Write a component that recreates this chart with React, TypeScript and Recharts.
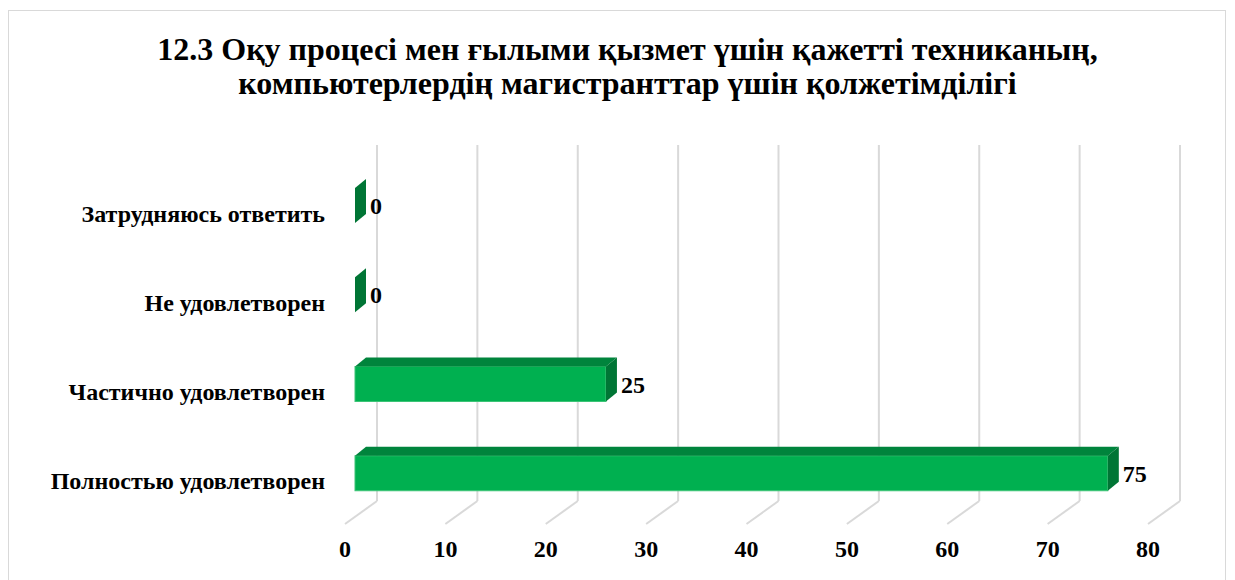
import React from 'react';
import { BarChart, Bar, XAxis, YAxis, CartesianGrid, LabelList } from 'recharts';

const categories = ['Затрудняюсь ответить', 'Не удовлетворен', 'Частично удовлетворен', 'Полностью удовлетворен'];
const values = [0, 0, 25, 75];
const xTicks = [0, 10, 20, 30, 40, 50, 60, 70, 80];
const titleLines = [
  '12.3 Оқу процесі мен ғылыми қызмет үшін қажетті техниканың,',
  'компьютерлердің магистранттар үшін қолжетімділігі',
];

const data = categories.map((c, i) => ({ name: c, value: values[i] }));

const FONT = '"Liberation Serif", "Times New Roman", serif';
const DX = 11;
const DY = 9;

const Bar3D = (props: any) => {
  const { x, y, width, height } = props;
  const w = Math.max(width || 0, 0);
  return (
    <g>
      <rect x={x} y={y} width={w} height={height} fill="#00b050" stroke="#3cc476" strokeWidth={w > 0 ? 1 : 0} />
      <polygon points={`${x},${y} ${x + DX},${y - DY} ${x + w + DX},${y - DY} ${x + w},${y}`} fill="#00843c" />
      <polygon
        points={`${x + w},${y} ${x + w + DX},${y - DY} ${x + w + DX},${y + height - DY} ${x + w},${y + height}`}
        fill="#007535"
      />
    </g>
  );
};

const GridLine = (props: any) => {
  const { x1, y1, y2 } = props;
  const bx = x1 + 22;
  return (
    <g>
      <line x1={bx} y1={y1 - 16} x2={bx} y2={y2 - 17} stroke="#d9d9d9" strokeWidth={2} />
      <line x1={x1 - 10} y1={y2 + 6} x2={bx} y2={y2 - 17} stroke="#d9d9d9" strokeWidth={2} />
    </g>
  );
};

const XTick = (props: any) => {
  const { x, y, payload } = props;
  return (
    <text x={x - 10} y={y + 31} textAnchor="middle" fontFamily={FONT} fontWeight="bold" fontSize={24} fill="#000">
      {payload.value}
    </text>
  );
};

const YTick = (props: any) => {
  const { y, payload } = props;
  return (
    <text x={325} y={y + 16} textAnchor="end" fontFamily={FONT} fontWeight="bold" fontSize={24} fill="#000">
      {payload.value}
    </text>
  );
};

const ValueLabel = (props: any) => {
  const { x, y, width, height, value } = props;
  return (
    <text
      x={x + Math.max(width || 0, 0) + 15}
      y={y + height / 2 + 8.5}
      fontFamily={FONT}
      fontWeight="bold"
      fontSize={24}
      fill="#000"
    >
      {value}
    </text>
  );
};

export default function App() {
  return (
    <div style={{ position: 'fixed', left: 0, top: 0, width: 1235, height: 580, background: '#fff', overflow: 'hidden' }}>
      <div
        style={{
          position: 'absolute',
          left: 8,
          top: 10,
          width: 1218,
          height: 620,
          border: '1px solid #d9d9d9',
          boxSizing: 'border-box',
        }}
      />
      <div
        style={{
          position: 'absolute',
          left: 0,
          top: 32,
          width: 1255,
          textAlign: 'center',
          fontFamily: FONT,
          fontWeight: 'bold',
          fontSize: 32,
          lineHeight: '34px',
          color: '#000',
        }}
      >
        {titleLines.map((l, i) => (
          <div key={i}>{l}</div>
        ))}
      </div>
      <div style={{ position: 'absolute', left: 0, top: 0 }}>
        <BarChart
          width={1235}
          height={580}
          data={data}
          layout="vertical"
          margin={{ top: 161, right: 77, bottom: 0, left: 15 }}
          barSize={35}
        >
          <CartesianGrid horizontal={false} vertical={GridLine as any} stroke="#d9d9d9" />
          <XAxis
            type="number"
            domain={[0, 80]}
            ticks={xTicks}
            axisLine={false}
            tickLine={false}
            height={62}
            tick={XTick as any}
            interval={0}
          />
          <YAxis type="category" dataKey="name" width={340} axisLine={false} tickLine={false} tick={YTick as any} />
          <Bar dataKey="value" isAnimationActive={false} shape={Bar3D as any}>
            <LabelList dataKey="value" content={ValueLabel as any} />
          </Bar>
        </BarChart>
      </div>
    </div>
  );
}
